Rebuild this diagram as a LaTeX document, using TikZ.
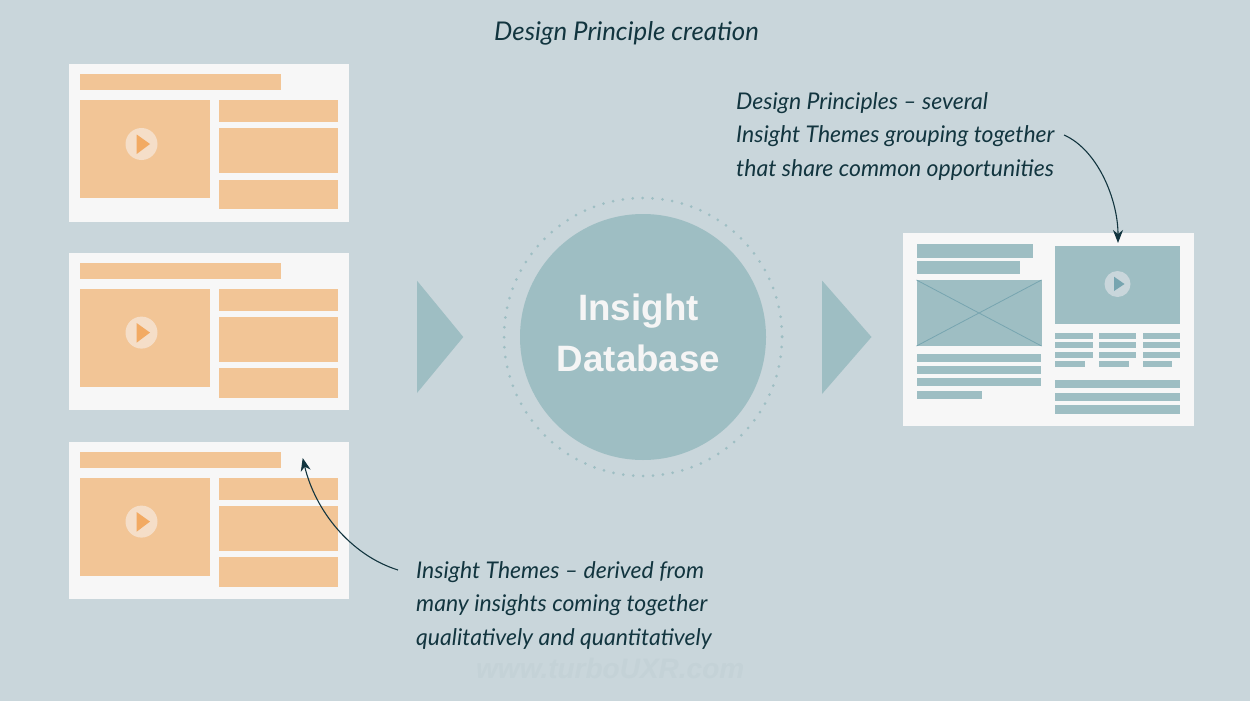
\documentclass[tikz,border=0pt]{standalone}
\usepackage{fontspec}
\setmainfont{Liberation Sans}
\newfontfamily\handfont{Lato}
\usetikzlibrary{arrows.meta}
\definecolor{bgblue}{HTML}{C9D6DB}
\definecolor{panelwhite}{HTML}{F7F7F7}
\definecolor{peach}{HTML}{F2C596}
\definecolor{peachdark}{HTML}{F2AA63}
\definecolor{peachlight}{HTML}{F5DEC8}
\definecolor{teal}{HTML}{9EBEC3}
\definecolor{tealdark}{HTML}{77A5B0}
\definecolor{inkblue}{HTML}{12353F}
\definecolor{markgray}{HTML}{C4D2D7}
\tikzset{
	peachbox/.style={fill=peach},
	tealbox/.style={fill=teal},
	handtext/.style={inkblue,inner sep=0pt,align=left,anchor=north west,font=\handfont\itshape\fontsize{23}{33.5}\selectfont},
	callout/.style={inkblue,line width=1.1pt,-{Stealth[length=13pt,width=10pt,inset=4pt]}},
}
\begin{document}
\begin{tikzpicture}[x=1pt,y=-1pt]
\useasboundingbox (0,0) rectangle (1250,701);
\fill[bgblue] (0,0) rectangle (1250,701);

% left column of theme cards
\foreach \y in {0,188.6,377.6}{
	\begin{scope}[shift={(0,\y)}]
	\fill[panelwhite] (68.5,64.5) rectangle (349,221.7);
	\fill[peachbox] (80,74) rectangle (280.5,90);
	\fill[peachbox] (80,100) rectangle (209.5,198);
	\fill[peachbox] (219,100) rectangle (338,122);
	\fill[peachbox] (219,128) rectangle (338,173);
	\fill[peachbox] (219,179.5) rectangle (338,209);
	\fill[peachlight] (141.5,144) circle (16);
	\fill[peachdark] (136.7,134.5)--(150,144)--(136.7,154)--cycle;
	\end{scope}
}

% middle
\fill[teal] (417,280.7)--(463.3,337)--(417,393)--cycle;
\fill[teal] (822,280.5)--(871.5,337)--(822,394)--cycle;
\draw[teal,line width=3pt,line cap=round,dash pattern=on 0pt off 9.92pt] (643,337) circle (139);
\node[circle,fill=teal,minimum size=246pt,inner sep=0pt] (database) at (643,337) {};
\node[white!96!black,font=\bfseries\fontsize{36.7}{51}\selectfont,align=center,inner sep=0pt] (databaselabel) at (638.5,332.5) {Insight\\Database};

% right card
\fill[panelwhite] (903,233) rectangle (1194,425.7);
\fill[tealbox] (916.5,244) rectangle (1033,257.5);
\fill[tealbox] (916.5,261) rectangle (1020,273.5);
\fill[tealbox] (916.5,280) rectangle (1041.5,346);
\draw[tealdark,line width=0.8pt] (916.5,280)--(1041.5,346) (916.5,346)--(1041.5,280);
\foreach \y in {354,366,378}{
	\fill[tealbox] (916.5,\y) rectangle (1041,\y+8.3);}
\fill[tealbox] (917,390.5) rectangle (982,398.5);
\fill[tealbox] (1055,245.5) rectangle (1180,324);
\fill[bgblue] (1117.5,284) circle (13);
\fill[tealdark] (1114,276.7)--(1124.5,284)--(1114,291)--cycle;
\foreach \x/\e in {1055/1093,1099/1136,1143/1180}{
	\fill[tealbox] (\x,332.7) rectangle (\e,339);
	\fill[tealbox] (\x,342.3) rectangle (\e,348.3);
	\fill[tealbox] (\x,352) rectangle (\e,358);}
\foreach \x/\e in {1055/1084.7,1099/1128.7,1143/1172.3}{
	\fill[tealbox] (\x,361) rectangle (\e,367.3);}
\foreach \y in {380,392.7,405.3}{
	\fill[tealbox] (1055,\y) rectangle (1180,\y+8.3);}

% texts
\node[handtext,font=\handfont\itshape\fontsize{25.8}{30}\selectfont] (title) at (494,21.5) {Design Principle creation};
\node[handtext] (principles) at (736,92) {Design Principles – several\\Insight Themes grouping together\\that share common opportunities};
\node[handtext] (themes) at (416,561) {Insight Themes – derived from\\many insights coming together\\qualitatively and quantitatively};
\node[markgray,font=\bfseries\itshape\fontsize{28}{30}\selectfont,inner sep=0pt,anchor=base west] (watermark) at (476,678) {www.turboUXR.com};

% arrows
\coordinate (principlesend) at (1064,135);
\coordinate (videotop) at (1118,243);
\coordinate (themesend) at (398,570);
\coordinate (cardtop) at (302.7,458);
\draw[callout] (principlesend) .. controls (1098,150) and (1118,200) .. (videotop);
\draw[callout] (themesend) .. controls (350,555) and (315,510) .. (cardtop);
\end{tikzpicture}
\end{document}
